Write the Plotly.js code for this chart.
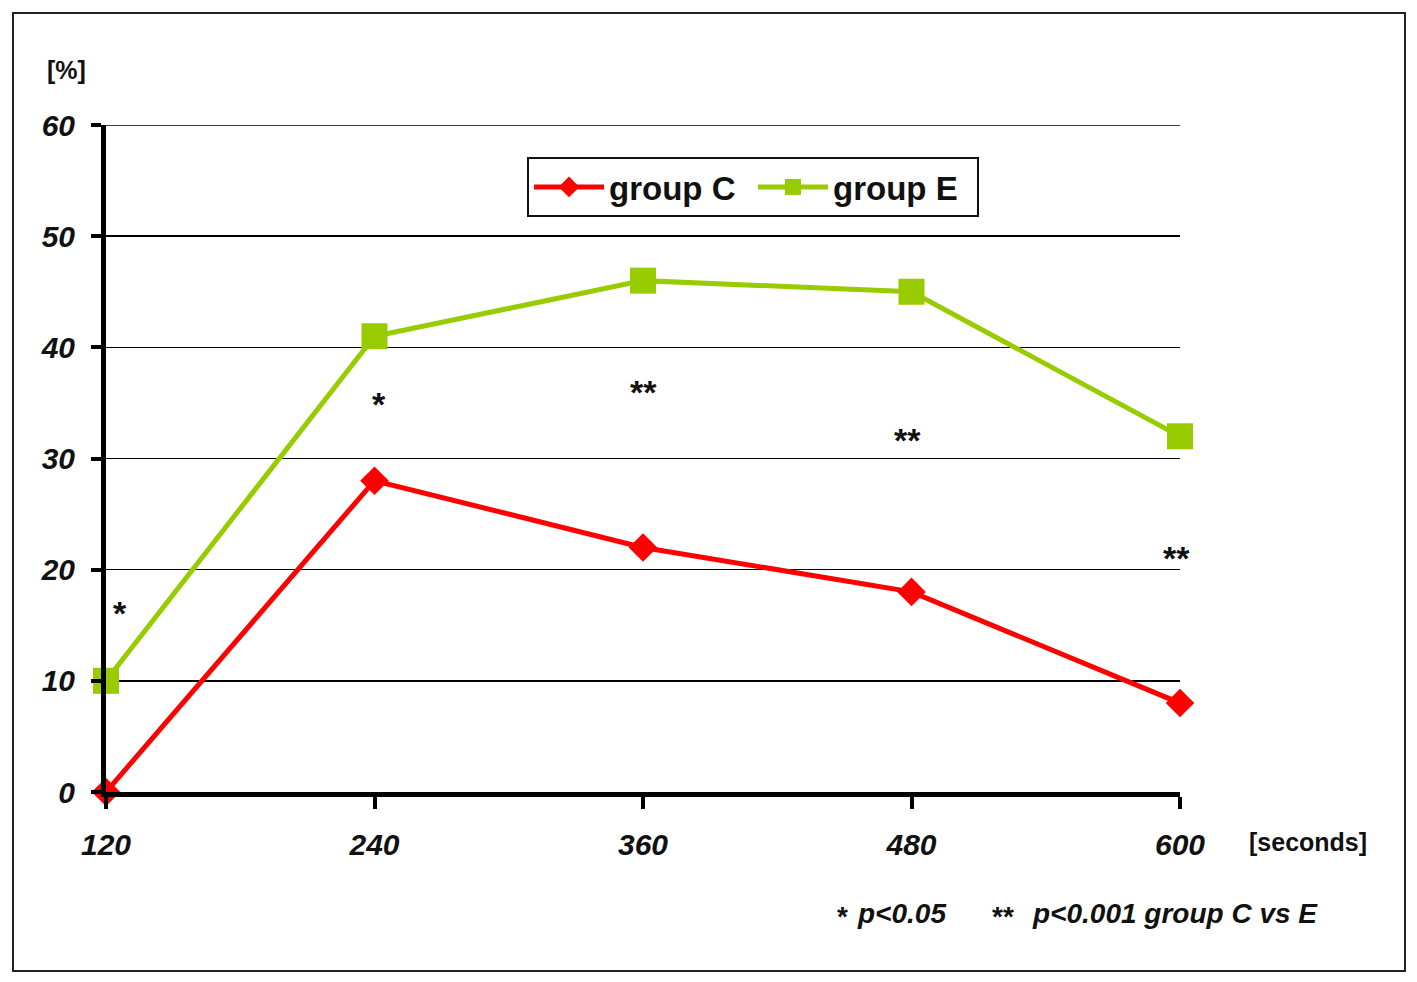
<!DOCTYPE html>
<html>
<head>
<meta charset="utf-8">
<script src="https://cdn.plot.ly/plotly-3.0.1.min.js"></script>
<style>
  body { margin: 0; background: #fff; }
  #chart { width: 1417px; height: 982px; }
  #frame { position: absolute; left: 12px; top: 12px; width: 1390px; height: 956px; border: 2px solid #222; pointer-events: none; }
</style>
</head>
<body>
<div id="chart"></div>
<div id="frame"></div>
<script>
const seconds = [120, 240, 360, 480, 600]
const groupC = [0, 28, 22, 18, 8]
const groupE = [10, 41, 46, 45, 32]
const stars = ["*", "*", "**", "**", "**"]
const starY = [16.6, 35.4, 36.5, 32.2, 21.6]
const yTicks = [0, 10, 20, 30, 40, 50, 60]

// plot box in pixels
const L = 106, R = 1180, T = 125, B = 792
const W = 1417, H = 982
const px = (x) => (x - L) / (R - L)
const py = (y) => (B - y) / (B - T)

const fontFam = "Liberation Sans, Arial, sans-serif"
const boldIt = (size) => ({ family: fontFam, size: size, weight: "bold", style: "italic", color: "#111" })
const bold = (size) => ({ family: fontFam, size: size, weight: "bold", color: "#111" })

const traces = [
  {
    x: seconds, y: groupC, name: "group C",
    mode: "lines+markers", type: "scatter",
    line: { color: "#ff0000", width: 5 },
    marker: { symbol: "diamond", size: 22, color: "#ff0000" },
    cliponaxis: false
  },
  {
    x: seconds, y: groupE, name: "group E",
    mode: "lines+markers", type: "scatter",
    line: { color: "#99cc00", width: 5 },
    marker: { symbol: "square", size: 26, color: "#99cc00" },
    cliponaxis: false
  }
]

const notes = seconds.map((s, i) => ({
  x: s, y: starY[i], text: stars[i], showarrow: false,
  xanchor: "center", yanchor: "middle",
  xshift: i == 0 ? 14 : (i == 1 ? 4 : (i == 3 ? -4 : (i == 4 ? -4 : 0))),
  yshift: -6,
  font: bold(34)
}))

const label = (x, y, text, font, anchor) => ({
  xref: "paper", yref: "paper", x: px(x), y: py(y), text: text, showarrow: false,
  xanchor: anchor || "center", yanchor: "middle", font: font
})

notes.push(
  label(66, 70, "[%]", bold(25)),
  label(1308, 842, "[seconds]", bold(25)),
  label(842, 916, "*", bold(28)),
  label(855, 913, "p<0.05", boldIt(28), "left"),
  label(1003, 916, "**", bold(28)),
  label(1030, 913, "p<0.001 group C vs E", boldIt(28), "left")
)

const layout = {
  width: W, height: H,
  margin: { l: L, r: W - R, t: T, b: H - B },
  paper_bgcolor: "#fff", plot_bgcolor: "#fff",
  showlegend: true,
  legend: {
    orientation: "h", x: px(527), y: py(157), xanchor: "left", yanchor: "top",
    bgcolor: "#fff", bordercolor: "#111", borderwidth: 2,
    itemwidth: 70, entrywidth: 139,
    font: bold(33)
  },
  xaxis: {
    range: [120, 600], tickvals: seconds, ticktext: seconds.map(String),
    showgrid: false, zeroline: false,
    showline: true, linecolor: "#000", linewidth: 5,
    ticks: "outside", ticklen: 12, tickwidth: 4, tickcolor: "#000",
    ticklabelstandoff: 10,
    tickfont: boldIt(30)
  },
  yaxis: {
    range: [0, 60], tickvals: yTicks,
    showgrid: true, gridcolor: "#000", gridwidth: 1.5, zeroline: false,
    showline: true, linecolor: "#000", linewidth: 5,
    ticks: "outside", ticklen: 10, tickwidth: 4, tickcolor: "#000",
    ticklabelstandoff: 10,
    tickfont: boldIt(30)
  },
  shapes: [
    { type: "line", xref: "paper", yref: "y", x0: 0, x1: 1, y0: 60, y1: 60,
      line: { color: "#000", width: 1.5 }, layer: "below" }
  ],
  annotations: notes
}

Plotly.newPlot("chart", traces, layout, { displayModeBar: false, staticPlot: true })
</script>
</body>
</html>
